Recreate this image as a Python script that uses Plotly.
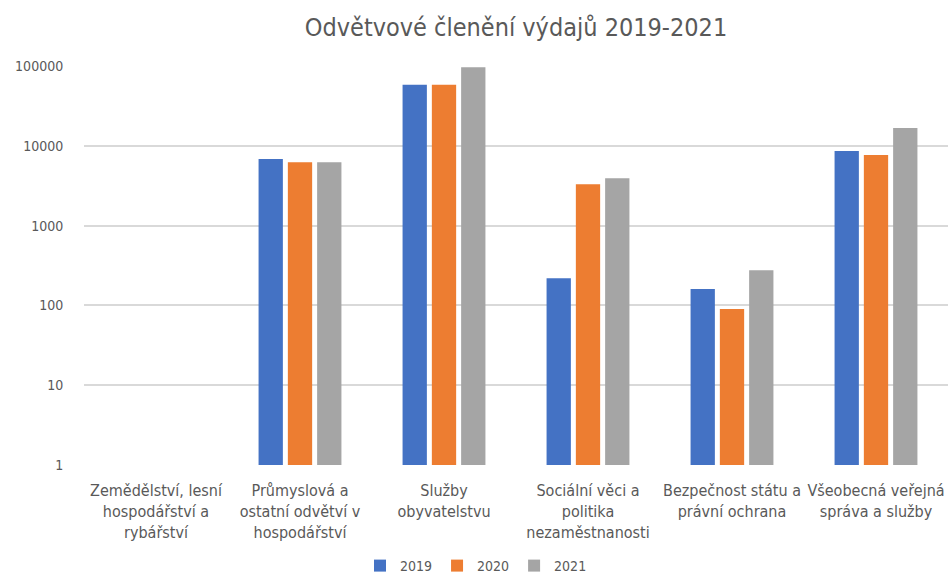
import plotly.graph_objects as go

categories = [
    "Zemědělství, lesní<br>hospodářství a<br>rybářství",
    "Průmyslová a<br>ostatní odvětví v<br>hospodářství",
    "Služby<br>obyvatelstvu",
    "Sociální věci a<br>politika<br>nezaměstnanosti",
    "Bezpečnost státu a<br>právní ochrana",
    "Všeobecná veřejná<br>správa a služby",
]
years = ["2019", "2020", "2021"]
values_2019 = [None, 6840, 58300, 219, 161, 8610]
values_2020 = [None, 6210, 58300, 3290, 90, 7680]
values_2021 = [None, 6200, 96300, 3920, 275, 16700]
colors = ["#4472C4", "#ED7D31", "#A5A5A5"]
tick_vals = [1, 10, 100, 1000, 10000, 100000]
tick_text = ["1", "10", "100", "1000", "10000", "100000"]

font_family = "DejaVu Sans Condensed, sans-serif"

fig = go.Figure()
for name, vals, col in zip(years, [values_2019, values_2020, values_2021], colors):
    fig.add_trace(go.Bar(name=name, x=categories, y=vals, marker_color=col,
                         marker_line_width=0))

fig.update_layout(
    width=952, height=574,
    margin=dict(l=84, r=4, t=66, b=109, autoexpand=False),
    paper_bgcolor="white", plot_bgcolor="white",
    barmode="group", bargap=0.39, bargroupgap=0.17,
    font=dict(family=font_family, color="#595959", size=14),
    title=dict(text="Odvětvové členění výdajů 2019-2021", x=0.5, xanchor="center",
               xref="paper", y=1 - 27 / 574, yref="container", yanchor="middle",
               font=dict(size=25, color="#595959", family=font_family)),
    legend=dict(orientation="h", x=0.5, xanchor="center", xref="container",
                y=1 - 566 / 574, yref="container", yanchor="middle",
                font=dict(size=14), itemwidth=30, traceorder="normal"),
    showlegend=True,
)
fig.update_yaxes(type="log", range=[0, 5], tickvals=tick_vals, ticktext=tick_text,
                 showgrid=True, gridcolor="#D9D9D9", gridwidth=1.5,
                 zeroline=False, showline=False, ticks="outside", ticklen=17,
                 tickcolor="rgba(0,0,0,0)", tickfont=dict(size=14), automargin=False)
fig.update_xaxes(showgrid=False, showline=False, ticks="outside", ticklen=11,
                 tickcolor="rgba(0,0,0,0)", tickfont=dict(size=16),
                 tickangle=0, automargin=False)

fig.write_html("out.html", config={"displayModeBar": False},
               post_script="document.body.style.margin='0';document.body.style.overflow='hidden';")
